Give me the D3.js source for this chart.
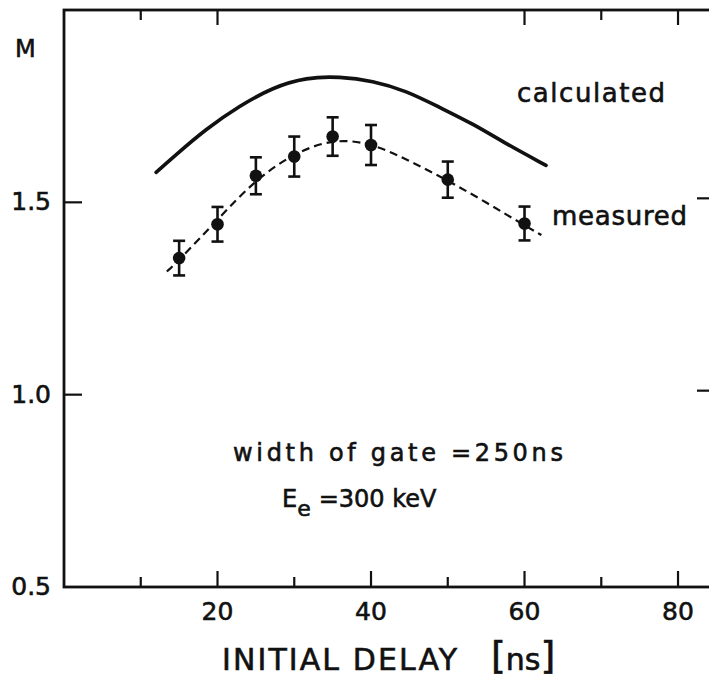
<!DOCTYPE html>
<html><head><meta charset="utf-8">
<script src="https://cdn.jsdelivr.net/npm/d3@7/dist/d3.min.js"></script>
<style>
html,body{margin:0;padding:0;background:#fff;}
svg{display:block;}
text{font-family:"DejaVu Sans",sans-serif;fill:#111;stroke:#111;stroke-width:0.6px;}
</style></head>
<body>
<svg id="c" width="709" height="679"></svg>
<script>
// measured points
const delay = [15, 20, 25, 30, 35, 40, 50, 60];
const measured = [1.355, 1.443, 1.569, 1.619, 1.671, 1.649, 1.559, 1.445];
const errs = [0.045, 0.045, 0.048, 0.052, 0.05, 0.052, 0.047, 0.044];
// calculated curve
const calcX = [12.0, 14.2, 18.5, 22.9, 27.2, 31.6, 35.9, 40.2, 44.6, 48.9, 53.3, 57.6, 62.8];
const calcY = [1.578, 1.617, 1.691, 1.751, 1.799, 1.825, 1.827, 1.816, 1.790, 1.747, 1.704, 1.652, 1.596];
// dashed fit through measured
const fitX = [13.4, 15, 20, 25, 30, 35, 40, 45, 50, 55, 60, 62.2];
const fitY = [1.32, 1.35, 1.455, 1.56, 1.628, 1.665, 1.655, 1.608, 1.557, 1.50, 1.44, 1.415];
// ticks
const xTickLabels = [20, 40, 60, 80];
const xMajor = [20, 40, 60, 80];
const xMinor = [10, 30, 50, 70];
const topMajor = [20, 60, 80];
const topMinor = [10, 70];
const yTickLabels = [0.5, 1.0, 1.5];
const yTicks = [1.0, 1.5];

const svg = d3.select("#c");
const x = d3.scaleLinear().domain([0, 85]).range([64, 716.4]);
const y = d3.scaleLinear().domain([0.5, 2.0]).range([587, 10]);

const ink = "#111";
// frame
svg.append("rect").attr("x", x(0)).attr("y", y(2.0))
  .attr("width", x(85) - x(0)).attr("height", y(0.5) - y(2.0))
  .attr("fill", "none").attr("stroke", ink).attr("stroke-width", 2.8);

// ticks
const tk = svg.append("g").attr("stroke", ink).attr("stroke-width", 2.2);
xMajor.forEach(v => tk.append("line").attr("x1", x(v)).attr("x2", x(v)).attr("y1", y(0.5)).attr("y2", y(0.5) - 16));
xMinor.forEach(v => tk.append("line").attr("x1", x(v)).attr("x2", x(v)).attr("y1", y(0.5)).attr("y2", y(0.5) - 10));
topMajor.forEach(v => tk.append("line").attr("x1", x(v)).attr("x2", x(v)).attr("y1", y(2.0)).attr("y2", y(2.0) + 15));
topMinor.forEach(v => tk.append("line").attr("x1", x(v)).attr("x2", x(v)).attr("y1", y(2.0)).attr("y2", y(2.0) + 10));
yTicks.forEach(v => {
  tk.append("line").attr("x1", x(0)).attr("x2", x(0) + 18).attr("y1", y(v)).attr("y2", y(v));
  tk.append("line").attr("x1", 697).attr("x2", x(85)).attr("y1", y(v) - 4).attr("y2", y(v) - 4);
});

// tick labels
svg.append("g").selectAll("text").data(xTickLabels).join("text")
  .attr("x", d => x(d)).attr("y", 620).attr("text-anchor", "middle")
  .attr("font-size", 25).text(d => d);
svg.append("g").selectAll("text").data(yTickLabels).join("text")
  .attr("x", 51).attr("y", d => y(d) + 8).attr("text-anchor", "end")
  .attr("font-size", 25).text(d => d.toFixed(1));

// axis titles
svg.append("text").attr("x", 15).attr("y", 57).attr("font-size", 24).text("M");
svg.append("text").attr("x", 222).attr("y", 670).attr("font-size", 30).attr("textLength", 235).text("INITIAL DELAY");
const ns = svg.append("text").attr("x", 491).attr("y", 668).attr("font-size", 30);
ns.append("tspan").attr("font-size", 38).text("[");
ns.append("tspan").attr("dy", 2).text("ns");
ns.append("tspan").attr("font-size", 38).attr("dy", -2).text("]");

// calculated curve
const calc = calcX.map((v, i) => [v, calcY[i]]);
const line = d3.line().x(d => x(d[0])).y(d => y(d[1])).curve(d3.curveBasis);
svg.append("path").attr("d", line(calc)).attr("fill", "none")
  .attr("stroke", ink).attr("stroke-width", 3.6).attr("stroke-linecap", "round");

// fit dashed
const fit = fitX.map((v, i) => [v, fitY[i]]);
svg.append("path").attr("d", line(fit)).attr("fill", "none")
  .attr("stroke", ink).attr("stroke-width", 2.2).attr("stroke-dasharray", "8,5");

// error bars and points
const pts = delay.map((v, i) => ({x: v, y: measured[i], e: errs[i]}));
const eb = svg.append("g").attr("stroke", ink).attr("stroke-width", 2.6);
pts.forEach(p => {
  eb.append("line").attr("x1", x(p.x)).attr("x2", x(p.x)).attr("y1", y(p.y - p.e)).attr("y2", y(p.y + p.e));
  eb.append("line").attr("x1", x(p.x) - 6).attr("x2", x(p.x) + 6).attr("y1", y(p.y - p.e)).attr("y2", y(p.y - p.e));
  eb.append("line").attr("x1", x(p.x) - 6).attr("x2", x(p.x) + 6).attr("y1", y(p.y + p.e)).attr("y2", y(p.y + p.e));
});
svg.append("g").selectAll("circle").data(pts).join("circle")
  .attr("cx", d => x(d.x)).attr("cy", d => y(d.y)).attr("r", 6.3).attr("fill", ink);

// annotations
svg.append("text").attr("x", 517).attr("y", 102).attr("font-size", 26).attr("textLength", 148).text("calculated");
svg.append("text").attr("x", 552).attr("y", 225).attr("font-size", 26).attr("textLength", 135).text("measured");
svg.append("text").attr("x", 233).attr("y", 461).attr("font-size", 24).attr("textLength", 330).text("width of gate =250ns");
const ee = svg.append("text").attr("x", 282).attr("y", 507).attr("font-size", 24);
ee.append("tspan").text("E");
ee.append("tspan").attr("font-size", 22).attr("dy", 9).text("e");
ee.append("tspan").attr("dy", -9).attr("dx", 8).text("=300 keV");
</script>
</body></html>
